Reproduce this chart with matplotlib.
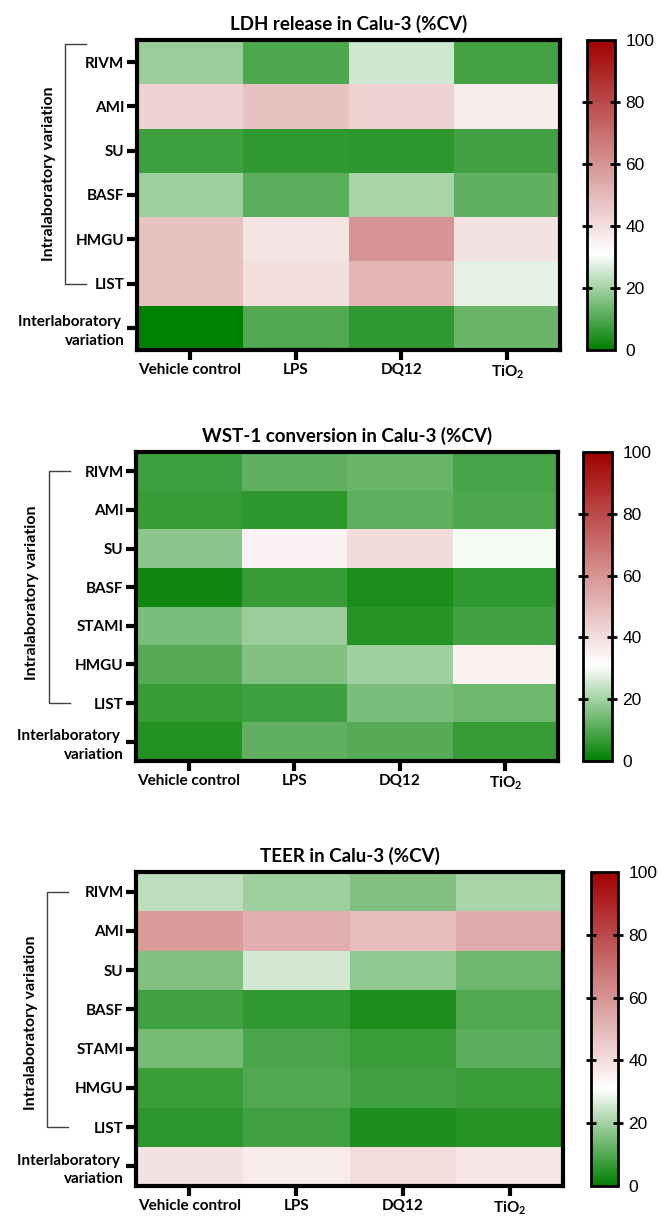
import matplotlib
matplotlib.use("Agg")
import matplotlib.pyplot as plt
import numpy as np
from matplotlib.colors import LinearSegmentedColormap
from matplotlib.lines import Line2D

plt.rcParams['font.family'] = ['Lato', 'DejaVu Sans']
plt.rcParams['mathtext.default'] = 'regular'

columns = ["Vehicle control", "LPS", "DQ12", "TiO$_2$"]

ldh_rows = ["RIVM", "AMI", "SU", "BASF", "HMGU", "LIST", "Interlaboratory \nvariation"]
ldh_values = [
    [19, 9.6, 25, 8.4],
    [43, 48, 43, 36.5],
    [7.5, 6.2, 5.5, 8],
    [19.5, 11, 20.6, 12],
    [48, 38.5, 60, 39],
    [48, 40, 51, 28],
    [0, 10, 6, 13],
]

wst_rows = ["RIVM", "AMI", "SU", "BASF", "STAMI", "HMGU", "LIST", "Interlaboratory \nvariation"]
wst_values = [
    [7.5, 12, 13, 8.7],
    [6.7, 5.5, 11.5, 9.7],
    [17, 34.5, 41, 29.7],
    [2.2, 6.7, 3.4, 6],
    [15, 19, 5, 8],
    [10.7, 16, 19.5, 35],
    [6.7, 7.5, 15, 13.4],
    [4.3, 12, 10.7, 6.7],
]

teer_rows = ["RIVM", "AMI", "SU", "BASF", "STAMI", "HMGU", "LIST", "Interlaboratory \nvariation"]
teer_values = [
    [23.3, 19.5, 16, 20.7],
    [58, 52.6, 49, 53.5],
    [16, 25.5, 17.6, 13.4],
    [7.9, 6, 3.6, 10],
    [14.8, 9, 7.3, 11.2],
    [7.3, 10, 7.9, 7.3],
    [5.8, 7.9, 3.6, 5],
    [39, 36.4, 40.5, 37.8],
]

titles = ["LDH release in Calu-3 (%CV)", "WST-1 conversion in Calu-3 (%CV)", "TEER in Calu-3 (%CV)"]
cbar_ticks = [0, 20, 40, 60, 80, 100]

cmap = LinearSegmentedColormap.from_list(
    "gwr", [(0.0, "#008000"), (0.31, "#ffffff"), (1.0, "#a00000")])

W, H = 658, 1217
fig = plt.figure(figsize=(W / 100, H / 100), dpi=100)


def px_axes(x0, y0, x1, y1):
    return fig.add_axes([x0 / W, 1 - y1 / H, (x1 - x0) / W, (y1 - y0) / H])


panels = [
    dict(rows=ldh_rows, vals=ldh_values, title=titles[0],
         ax=(137, 40, 560, 350), cb=(587, 40, 615, 350),
         bx=-0.170, bend=-0.12, btop=-0.4, lx=-0.208, ly=0.57),
    dict(rows=wst_rows, vals=wst_values, title=titles[1],
         ax=(136, 452, 558, 761), cb=(583, 452, 612, 761),
         bx=-0.207, bend=-0.157, btop=0.0, lx=-0.247, ly=0.545),
    dict(rows=teer_rows, vals=teer_values, title=titles[2],
         ax=(136, 872, 563, 1186), cb=(591, 872, 618, 1186),
         bx=-0.209, bend=-0.16, btop=0.0, lx=-0.246, ly=0.52),
]

for p in panels:
    ax = px_axes(*p["ax"])
    data = np.array(p["vals"], dtype=float)
    nr, nc = data.shape
    mesh = ax.pcolormesh(np.arange(nc + 1), np.arange(nr + 1), data,
                         cmap=cmap, vmin=0, vmax=100, shading="flat")
    ax.set_xlim(0, nc)
    ax.set_ylim(nr, 0)
    ax.set_xticks(np.arange(nc) + 0.5)
    ax.set_xticklabels(columns, fontsize=11, fontweight="bold")
    ax.set_yticks(np.arange(nr) + 0.5)
    ax.set_yticklabels(p["rows"], fontsize=11, fontweight="bold",
                       multialignment="right", linespacing=1.4)
    ax.tick_params(axis="both", length=7, width=3, color="black", pad=2)
    ax.tick_params(axis="x", pad=2.5)
    for s in ax.spines.values():
        s.set_linewidth(3)
    ax.set_title(p["title"], fontsize=13.5, fontweight="bold", pad=7)

    # bracket for intralaboratory rows
    trans = matplotlib.transforms.blended_transform_factory(ax.transAxes, ax.transData)
    n_intra = nr - 1
    y_top = 0.5 + p["btop"]
    y_bot = n_intra - 0.5
    bx, be = p["bx"], p["bend"]
    ax.add_line(Line2D([be, bx, bx, be], [y_top, y_top, y_bot, y_bot],
                       transform=trans, clip_on=False, color="#404040", lw=1))
    ax.text(p["lx"], p["ly"], "Intralaboratory variation", transform=ax.transAxes,
            rotation=90, ha="center", va="center", fontsize=11.5, fontweight="bold")

    cax = px_axes(*p["cb"])
    cb = fig.colorbar(mesh, cax=cax)
    cb.outline.set_linewidth(2)
    cax.set_yticks(cbar_ticks)
    cax.set_yticklabels([str(t) for t in cbar_ticks], fontsize=12.5,
                        fontfamily="Liberation Sans")
    cax.yaxis.set_ticks_position("both")
    cax.tick_params(axis="y", which="major", direction="inout", length=7, width=2,
                    left=True, right=True, labelleft=False, labelright=True, pad=4)
    ticks = cax.yaxis.get_major_ticks()
    for t in (ticks[0], ticks[-1]):
        t.tick1line.set_visible(False)
        t.tick2line.set_visible(False)

fig.savefig("out.png", dpi=100)
